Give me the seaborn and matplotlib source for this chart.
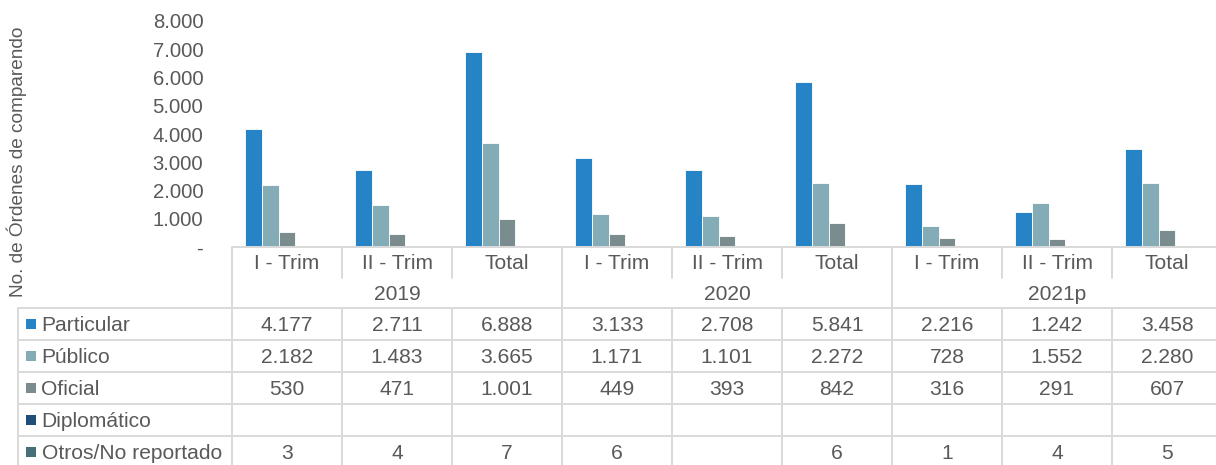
import numpy as np
import pandas as pd
import matplotlib
matplotlib.use("Agg")
import matplotlib.pyplot as plt
import seaborn as sns
from matplotlib.patches import Rectangle

# Datos
categorias = ["I - Trim", "II - Trim", "Total",
              "I - Trim", "II - Trim", "Total",
              "I - Trim", "II - Trim", "Total"]
anios = ["2019", "2020", "2021p"]
series = ["Particular", "Público", "Oficial", "Diplomático", "Otros/No reportado"]

particular = [4177, 2711, 6888, 3133, 2708, 5841, 2216, 1242, 3458]
publico = [2182, 1483, 3665, 1171, 1101, 2272, 728, 1552, 2280]
oficial = [530, 471, 1001, 449, 393, 842, 316, 291, 607]
diplomatico = [None, None, None, None, None, None, None, None, None]
otros = [3, 4, 7, 6, None, 6, 1, 4, 5]

colores = ["#2683C6", "#84ACB6", "#7B8C8E", "#1D4F79", "#476F78"]

valores = [particular, publico, oficial, diplomatico, otros]

# Tabla larga para seaborn
filas = []
for nombre, vals in zip(series, valores):
    for i, v in enumerate(vals):
        filas.append({"pos": i, "serie": nombre, "valor": v})
df = pd.DataFrame(filas)
df["valor"] = df["valor"].astype(float).fillna(0)


def fmt(v):
    if v is None:
        return ""
    return f"{v:,}".replace(",", ".")


sns.set_style("white")
plt.rcParams["font.family"] = ["Liberation Sans", "DejaVu Sans"]

W, H = 1216, 465
gris_txt = "#595959"
gris_lin = "#D9D9D9"
fs = 15.1

fig = plt.figure(figsize=(W / 100, H / 100), dpi=100)

# Eje de barras (en pixeles)
x0, col_w = 232, 110
y_base, y_top = 247, 21
ax = fig.add_axes([x0 / W, (H - y_base) / H, col_w * 9 / W, (y_base - y_top) / H])

sns.barplot(data=df, x="pos", y="valor", hue="serie", hue_order=series,
            palette=colores, width=0.76, errorbar=None, saturation=1,
            edgecolor="white", linewidth=0.6, legend=False, ax=ax)

ax.set_xlim(-0.5, 8.5)
ax.set_ylim(0, 8000)
ax.set_yticks(range(0, 9000, 1000))
ax.set_yticklabels(["-" if t == 0 else fmt(t) for t in range(0, 9000, 1000)])
ax.tick_params(axis="y", length=0, pad=20.7, labelsize=14.6, labelcolor=gris_txt)
ax.set_xticks([])
ax.set_xlabel("")
ax.set_ylabel("")
for s in ["left", "top", "right"]:
    ax.spines[s].set_visible(False)
ax.spines["bottom"].set_color(gris_lin)
ax.spines["bottom"].set_linewidth(1.4)

fig.text(17 / W, 1 - 162 / H, "No. de Órdenes de comparendo", rotation=90,
         ha="center", va="center", fontsize=13.7, color=gris_txt)

# Tabla de datos (coordenadas en pixeles)
tax = fig.add_axes([0, 0, 1, 1], zorder=-1)
tax.set_xlim(0, W)
tax.set_ylim(H, 0)
tax.axis("off")

x_left = 18
x_right = x0 + 9 * col_w
h1_bot = 277.5
h2_bot = 308
row_h = 32
lw = 1.4

# lineas de encabezado
for i in range(10):
    x = x0 + i * col_w
    y_end = h2_bot if i % 3 == 0 else h1_bot
    tax.plot([x, x], [y_base, y_end], color=gris_lin, lw=lw)

# cuerpo de la tabla
y_fin = h2_bot + row_h * len(series)
for k in range(len(series) + 1):
    y = h2_bot + k * row_h
    tax.plot([x_left, x_right], [y, y], color=gris_lin, lw=lw)
tax.plot([x_left, x_left], [h2_bot, y_fin], color=gris_lin, lw=lw)
for i in range(10):
    x = x0 + i * col_w
    tax.plot([x, x], [h2_bot, y_fin], color=gris_lin, lw=lw)

# textos del encabezado
for i, c in enumerate(categorias):
    tax.text(x0 + (i + 0.5) * col_w, 269.3, c, ha="center", va="baseline",
             fontsize=fs, color=gris_txt)
for j, a in enumerate(anios):
    tax.text(x0 + (j * 3 + 1.5) * col_w, 300, a, ha="center", va="baseline",
             fontsize=fs, color=gris_txt)

# filas con leyenda y valores
for k, (nombre, vals, col) in enumerate(zip(series, valores, colores)):
    top = h2_bot + k * row_h
    tax.add_patch(Rectangle((25.7, top + 10.5), 10, 10, color=col, lw=0))
    tax.text(41.5, top + 23, nombre, ha="left", va="baseline",
             fontsize=fs, color=gris_txt)
    for i, v in enumerate(vals):
        tax.text(x0 + (i + 0.5) * col_w, top + 23, fmt(v), ha="center",
                 va="baseline", fontsize=fs, color=gris_txt)

fig.savefig("out.png", dpi=100)
